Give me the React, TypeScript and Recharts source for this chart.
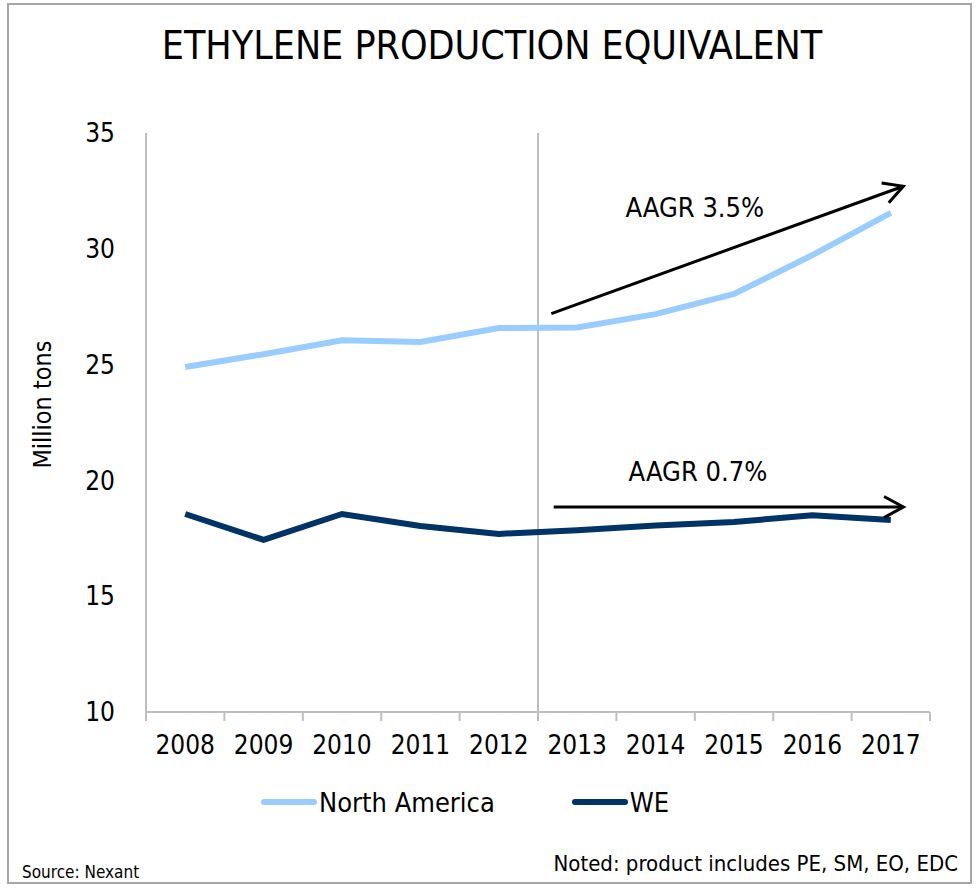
import { LineChart, Line, XAxis, YAxis, Legend, ReferenceLine, ReferenceDot } from "recharts"

const years = ["2008", "2009", "2010", "2011", "2012", "2013", "2014", "2015", "2016", "2017"]
const northAmerica = [24.9, 25.45, 26.05, 25.98, 26.58, 26.6, 27.18, 28.05, 29.73, 31.55]
const westernEurope = [18.55, 17.43, 18.55, 18.03, 17.69, 17.85, 18.05, 18.2, 18.5, 18.29]
const yTicks = [10, 15, 20, 25, 30, 35]

// annotation arrows, in (category index, value) units
const upperArrow = [{ x: 4.67, y: 27.2 }, { x: 9.16, y: 32.7 }]
const lowerArrow = [{ x: 4.7, y: 18.85 }, { x: 9.16, y: 18.85 }]
const upperLabel = { x: 6.5, y: 31.8, text: "AAGR 3.5%" }
const lowerLabel = { x: 6.54, y: 20.38, text: "AAGR 0.7%" }
const forecastStart = 4.5

const FONT = '"Liberation Sans Narrow", "Arial Narrow", "DejaVu Sans Condensed", sans-serif'
const AXIS_GRAY = "#bfbfbf"

const data = years.map((year, i) => ({
  i,
  year,
  na: northAmerica[i],
  we: westernEurope[i],
}))

const boundaries = [...years.map((_, i) => i - 0.5), years.length - 0.5]

function arrowShape(p: any) {
  const { x1, y1, x2, y2 } = p
  const a = Math.atan2(y2 - y1, x2 - x1)
  const len = 22
  const spread = 0.5
  const ax = x2 - len * Math.cos(a - spread)
  const ay = y2 - len * Math.sin(a - spread)
  const bx = x2 - len * Math.cos(a + spread)
  const by = y2 - len * Math.sin(a + spread)
  return (
    <g>
      <line x1={x1} y1={y1} x2={x2} y2={y2} stroke="#000" strokeWidth={3} />
      <polyline points={`${ax},${ay} ${x2},${y2} ${bx},${by}`} fill="none" stroke="#000" strokeWidth={3} />
    </g>
  )
}

function boundaryTick(p: any) {
  const bottom = Math.max(p.y1, p.y2)
  return <line x1={p.x1} y1={bottom} x2={p.x1} y2={bottom + 9} stroke={AXIS_GRAY} strokeWidth={2} />
}

function yLabel(p: any) {
  const vb = p.viewBox
  const cx = 42
  const cy = vb.y + vb.height / 2 - 18
  return (
    <text x={cx} y={cy} transform={`rotate(-90, ${cx}, ${cy})`} textAnchor="middle" dominantBaseline="central"
      fontFamily={FONT} fontSize={25} fill="#000">
      Million tons
    </text>
  )
}

function renderLegend() {
  const items = [
    { name: "North America", color: "#99ccff" },
    { name: "WE", color: "#003366" },
  ]
  return (
    <div style={{ display: "flex", alignItems: "center", paddingLeft: 261, fontFamily: FONT, fontSize: 27, height: 36 }}>
      {items.map((it, k) => (
        <div key={it.name} style={{ display: "flex", alignItems: "center", marginRight: k === 0 ? 77 : 0 }}>
          <span style={{ display: "inline-block", width: 56, height: 6, borderRadius: 3, background: it.color, marginRight: 2 }} />
          <span>{it.name}</span>
        </div>
      ))}
    </div>
  )
}

export default function App() {
  return (
    <div style={{ position: "absolute", left: 0, top: 0, width: 978, height: 888, background: "#fff", fontFamily: FONT }}>
      <div style={{ position: "absolute", left: 7, top: 3, width: 965, height: 881, border: "2px solid #a6a6a6", boxSizing: "border-box" }} />
      <div style={{ position: "absolute", left: 0, top: 23, width: 984, textAlign: "center", fontSize: 39, color: "#000" }}>
        ETHYLENE PRODUCTION EQUIVALENT
      </div>
      <div style={{ position: "absolute", left: 0, top: 0 }}>
        <LineChart width={978} height={888} data={data} margin={{ top: 133, right: 48, bottom: 110, left: 0 }}>
          <XAxis
            dataKey="i"
            type="number"
            domain={[-0.5, 9.5]}
            ticks={years.map((_, i) => i)}
            tickFormatter={(v: number) => years[v]}
            axisLine={{ stroke: AXIS_GRAY, strokeWidth: 2 }}
            tickLine={false}
            tickSize={0}
            tickMargin={24}
            tick={{ fill: "#000", fontSize: 26, fontFamily: FONT }}
            interval={0}
          />
          <YAxis
            domain={[10, 35]}
            ticks={yTicks}
            width={146}
            axisLine={{ stroke: AXIS_GRAY, strokeWidth: 2 }}
            tickLine={false}
            tickSize={0}
            tickMargin={31}
            tick={{ fill: "#000", fontSize: 26, fontFamily: FONT }}
            label={yLabel}
          />
          {boundaries.map((b) => (
            <ReferenceLine key={b} x={b} shape={boundaryTick} />
          ))}
          <ReferenceLine x={forecastStart} stroke={AXIS_GRAY} strokeWidth={2} />
          <Line type="linear" dataKey="na" name="North America" stroke="#99ccff" strokeWidth={6} dot={false} isAnimationActive={false} />
          <Line type="linear" dataKey="we" name="WE" stroke="#003366" strokeWidth={6} dot={false} isAnimationActive={false} />
          <ReferenceLine segment={upperArrow} shape={arrowShape} />
          <ReferenceLine segment={lowerArrow} shape={arrowShape} />
          <ReferenceDot x={upperLabel.x} y={upperLabel.y} r={0} fill="none" stroke="none"
            label={{ value: upperLabel.text, position: "center", fontSize: 27, fontFamily: FONT, fill: "#000" }} />
          <ReferenceDot x={lowerLabel.x} y={lowerLabel.y} r={0} fill="none" stroke="none"
            label={{ value: lowerLabel.text, position: "center", fontSize: 27, fontFamily: FONT, fill: "#000" }} />
          <Legend content={renderLegend} wrapperStyle={{ left: 0, top: 784, width: 978, height: 36 }} />
        </LineChart>
      </div>
      <div style={{ position: "absolute", left: 22, top: 862, fontSize: 17, color: "#000" }}>Source: Nexant</div>
      <div style={{ position: "absolute", right: 20, top: 851, fontSize: 22, color: "#000" }}>
        Noted: product includes PE, SM, EO, EDC
      </div>
    </div>
  )
}
